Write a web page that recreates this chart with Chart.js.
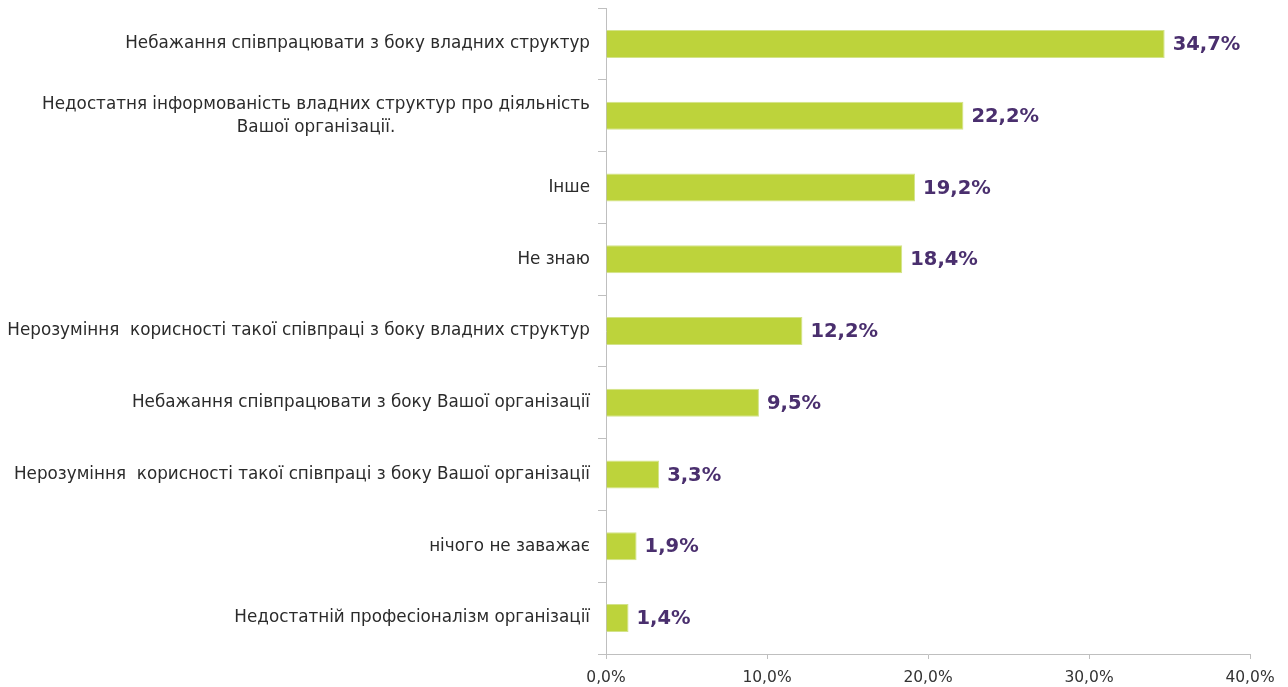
<!DOCTYPE html>
<html>
<head>
<meta charset="utf-8">
<script src="https://cdn.jsdelivr.net/npm/chart.js@4.4.1/dist/chart.umd.min.js"></script>
<style>
  html, body { margin: 0; padding: 0; background: #fff; }
  #wrap { width: 1288px; height: 687px; position: relative; }
</style>
</head>
<body>
<div id="wrap"><canvas id="chart"></canvas></div>
<script>
const categories = [
  ["Небажання співпрацювати з боку владних структур"],
  ["Недостатня інформованість владних структур про діяльність", "Вашої організації."],
  ["Інше"],
  ["Не знаю"],
  ["Нерозуміння  корисності такої співпраці з боку владних структур"],
  ["Небажання співпрацювати з боку Вашої організації"],
  ["Нерозуміння  корисності такої співпраці з боку Вашої організації"],
  ["нічого не заважає"],
  ["Недостатній професіоналізм організації"],
];
const shares = [34.7, 22.2, 19.2, 18.4, 12.2, 9.5, 3.3, 1.9, 1.4];
const xTicks = [0, 10, 20, 30, 40];

const BAR_COLOUR = "#bdd33b";
const VALUE_COLOUR = "#4a2f6e";
const LABEL_COLOUR = "#2b2b2b";
const AXIS_COLOUR = "#bfbfbf";
const LABEL_FONT = "400 16.8px 'DejaVu Sans'";
const VALUE_FONT = "700 19.5px 'DejaVu Sans'";

function fmt(v, digits) {
  return v.toFixed(digits).replace(".", ",");
}

// category labels, centred per line, right edge near the axis
const categoryLabels = {
  id: "categoryLabels",
  afterDraw(chart) {
    const ctx = chart.ctx;
    const yScale = chart.scales.y;
    const right = yScale.right - 16;
    ctx.save();
    ctx.font = LABEL_FONT;
    ctx.fillStyle = LABEL_COLOUR;
    ctx.textBaseline = "middle";
    categories.forEach((lines, i) => {
      const y = yScale.getPixelForValue(i);
      const widths = lines.map((l) => ctx.measureText(l).width);
      const maxW = Math.max(...widths);
      const lineH = 23;
      lines.forEach((line, j) => {
        const ly = y + (j - (lines.length - 1) / 2) * lineH;
        ctx.textAlign = "center";
        ctx.fillText(line, right - maxW / 2, ly);
      });
    });
    ctx.restore();
  },
};

const valueLabels = {
  id: "valueLabels",
  afterDatasetsDraw(chart) {
    const ctx = chart.ctx;
    const meta = chart.getDatasetMeta(0);
    ctx.save();
    ctx.font = VALUE_FONT;
    ctx.fillStyle = VALUE_COLOUR;
    ctx.textAlign = "left";
    ctx.textBaseline = "middle";
    meta.data.forEach((bar, i) => {
      ctx.fillText(fmt(shares[i], 1) + "%", bar.x + 8, bar.y + 1);
    });
    ctx.restore();
  },
};

new Chart(document.getElementById("chart"), {
  type: "bar",
  data: {
    labels: categories.map((c) => c.join(" ")),
    datasets: [
      {
        data: shares,
        backgroundColor: BAR_COLOUR,
        borderColor: "#d3e38a",
        borderWidth: 1,
        categoryPercentage: 1,
        barPercentage: 0.39,
      },
    ],
  },
  options: {
    indexAxis: "y",
    responsive: true,
    maintainAspectRatio: false,
    animation: false,
    layout: { padding: { top: 8, right: 38, left: 0, bottom: 0 } },
    plugins: { legend: { display: false }, tooltip: { enabled: false } },
    scales: {
      x: {
        min: 0,
        max: 40,
        afterBuildTicks: (s) => {
          s.ticks = xTicks.map((v) => ({ value: v }));
        },
        afterFit: (s) => {
          s.height = 33;
        },
        border: { color: AXIS_COLOUR, width: 1 },
        grid: {
          drawOnChartArea: false,
          drawTicks: true,
          tickLength: 5,
          color: AXIS_COLOUR,
        },
        ticks: {
          padding: 10,
          color: "#333333",
          font: { family: "'DejaVu Sans'", size: 15.5 },
          callback: (v) => fmt(v, 1) + "%",
        },
      },
      y: {
        afterFit: (s) => {
          s.width = 606;
        },
        border: { color: AXIS_COLOUR, width: 1 },
        grid: {
          drawOnChartArea: false,
          drawTicks: true,
          tickLength: 8,
          color: AXIS_COLOUR,
        },
        ticks: { display: false },
      },
    },
  },
  plugins: [categoryLabels, valueLabels],
});
</script>
</body>
</html>
